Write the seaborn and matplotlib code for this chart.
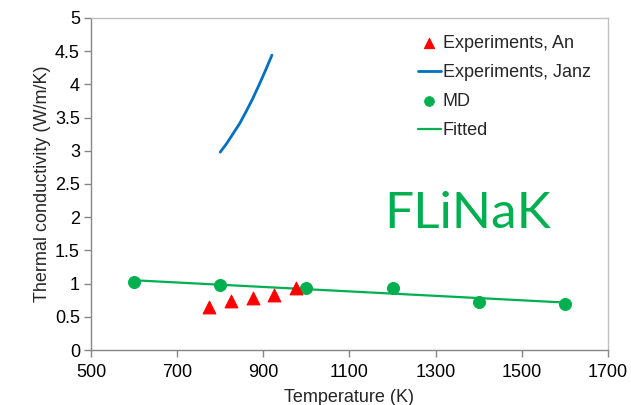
import matplotlib
matplotlib.use("Agg")
import matplotlib.pyplot as plt
import seaborn as sns
import pandas as pd

# datos
temp_an = [775, 825, 875, 925, 975]
k_an = [0.65, 0.74, 0.78, 0.83, 0.93]

temp_janz = [800, 815, 830, 845, 860, 875, 890, 905, 920]
k_janz = [2.98, 3.11, 3.26, 3.41, 3.59, 3.78, 3.99, 4.21, 4.44]

temp_md = [600, 800, 1000, 1200, 1400, 1600]
k_md = [1.02, 0.98, 0.94, 0.93, 0.73, 0.70]

temp_fit = [600, 1600]
k_fit = [1.05, 0.715]

x_ticks = [500, 700, 900, 1100, 1300, 1500, 1700]
y_ticks = [0, 0.5, 1, 1.5, 2, 2.5, 3, 3.5, 4, 4.5, 5]

rojo = "#FF0000"
azul = "#0070C0"
verde = "#00B050"

sns.set_style("white")
plt.rcParams['font.family'] = ['Liberation Sans', 'DejaVu Sans']

fig = plt.figure(figsize=(6.31, 4.05), dpi=100)
ax = fig.add_axes([0.1442, 0.1358, 0.8193, 0.8198])

df_an = pd.DataFrame({'T': temp_an, 'k': k_an})
df_janz = pd.DataFrame({'T': temp_janz, 'k': k_janz})
df_md = pd.DataFrame({'T': temp_md, 'k': k_md})
df_fit = pd.DataFrame({'T': temp_fit, 'k': k_fit})

sns.lineplot(data=df_fit, x='T', y='k', ax=ax, color=verde, lw=1.6,
             label='Fitted', zorder=2)
sns.scatterplot(data=df_md, x='T', y='k', ax=ax, color=verde, s=75,
                marker='o', edgecolor=verde, label='MD', zorder=3)
sns.lineplot(data=df_janz, x='T', y='k', ax=ax, color=azul, lw=2.0,
             label='Experiments, Janz', zorder=2)
sns.scatterplot(data=df_an, x='T', y='k', ax=ax, color=rojo, s=85,
                marker='^', edgecolor=rojo, label='Experiments, An', zorder=3)

ax.set_xlim(500, 1700)
ax.set_ylim(0, 5)
ax.set_xticks(x_ticks)
ax.set_yticks(y_ticks)
ax.set_yticklabels([('%g' % v) for v in y_ticks])
ax.tick_params(axis='both', which='both', bottom=True, left=True,
               labelsize=13, direction='out', length=5, width=1,
               color='#868686', labelcolor='black')
ax.tick_params(axis='x', pad=5)
ax.tick_params(axis='y', pad=3)

for lado in ['left', 'bottom']:
    ax.spines[lado].set_color('#868686')
    ax.spines[lado].set_linewidth(1.0)
for lado in ['top', 'right']:
    ax.spines[lado].set_color('#BFBFBF')
    ax.spines[lado].set_linewidth(1.0)

ax.set_xlabel('Temperature (K)', fontsize=13, labelpad=6)
ax.set_ylabel('Thermal conductivity (W/m/K)', fontsize=13, labelpad=3)

handles, labels = ax.get_legend_handles_labels()
orden = ['Experiments, An', 'Experiments, Janz', 'MD', 'Fitted']
h_ord = [handles[labels.index(n)] for n in orden]
leg = ax.legend(h_ord, orden, loc='upper left', bbox_to_anchor=(0.632, 0.950),
                frameon=False, fontsize=13, handlelength=1.3,
                handletextpad=0.1, labelspacing=0.68, borderaxespad=0,
                borderpad=0, markerscale=0.8)

ax.text(0.728, 0.41, 'FLiNaK', transform=ax.transAxes, fontsize=37,
        color=verde, family=['Lato', 'DejaVu Sans'], ha='center', va='center')

fig.savefig('out.png', dpi=100)
